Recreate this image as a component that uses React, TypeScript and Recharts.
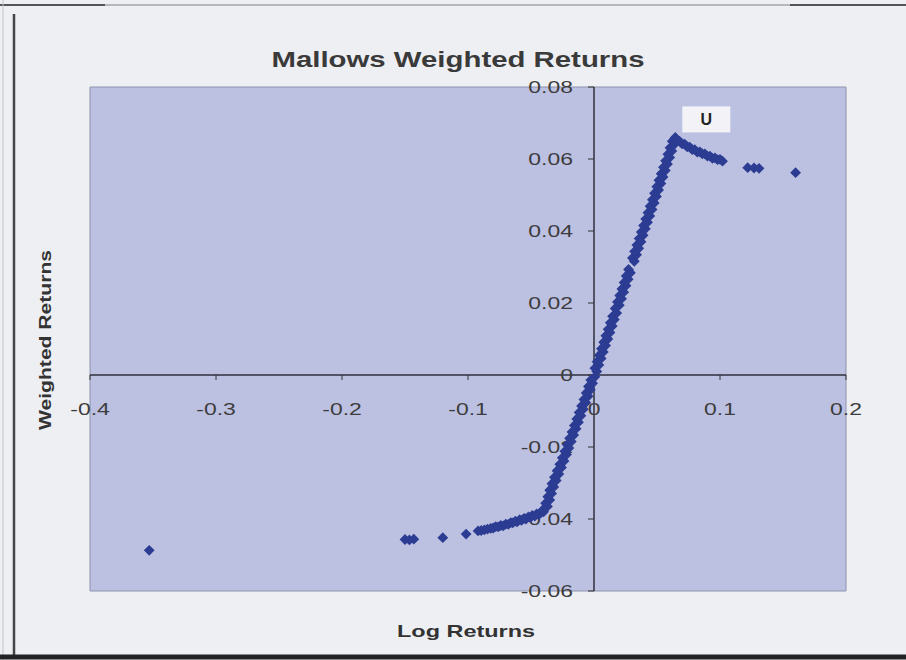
import React from 'react';
import { ScatterChart, Scatter, XAxis, YAxis, CartesianGrid, ReferenceArea, ReferenceLine, ReferenceDot } from 'recharts';

// log returns below zero and their Mallows weighted values
const negLogReturns = [
  -0.353, -0.15, -0.1465, -0.143, -0.12, -0.1015,
  -0.092, -0.0895, -0.087, -0.0845, -0.082, -0.08, -0.078, -0.076, -0.074, -0.072,
  -0.07, -0.068, -0.066, -0.0645, -0.0625, -0.061, -0.059, -0.0575, -0.0555, -0.054,
  -0.052, -0.0505, -0.049, -0.047, -0.0455, -0.044, -0.042,
  -0.04, -0.0405, -0.0369, -0.0384, -0.0351, -0.0367, -0.0336, -0.0352, -0.0319, -0.0334,
  -0.03, -0.0314, -0.0279, -0.0293, -0.0258, -0.0272, -0.0238, -0.0252, -0.0218, -0.0232,
  -0.0199, -0.0213, -0.018, -0.0194, -0.0161, -0.0175, -0.0142, -0.0156, -0.0123, -0.0137,
  -0.0104, -0.0118, -0.0085, -0.0099, -0.0065, -0.008, -0.0047, -0.0062, -0.0029, -0.0044,
  -0.0011, -0.0026, 0.0007,
];
const negWeighted = [
  -0.0487, -0.0457, -0.0458, -0.0456, -0.0452, -0.0442,
  -0.0433, -0.0432, -0.043, -0.0428, -0.0426, -0.0425, -0.0421, -0.0422, -0.0418, -0.0419,
  -0.0414, -0.0415, -0.041, -0.0411, -0.0406, -0.0408, -0.0402, -0.0404, -0.0398, -0.04,
  -0.0394, -0.0396, -0.039, -0.0392, -0.0386, -0.0388, -0.0382,
  -0.038, -0.0374, -0.0365, -0.0356, -0.0347, -0.0338, -0.0329, -0.032, -0.0311, -0.0302,
  -0.0293, -0.0284, -0.0275, -0.0266, -0.0257, -0.0248, -0.0239, -0.023, -0.0221, -0.0212,
  -0.0203, -0.0194, -0.0185, -0.0176, -0.0167, -0.0158, -0.0149, -0.014, -0.0131, -0.0122,
  -0.0113, -0.0104, -0.0095, -0.0086, -0.0077, -0.0068, -0.0059, -0.005, -0.0041, -0.0032,
  -0.0023, -0.0014, -0.0005,
];

// log returns above zero and their Mallows weighted values
const posLogReturns = [
  0.0022, 0.0007, 0.0039, 0.0024, 0.0057, 0.0042, 0.0074, 0.0059, 0.0092, 0.0077,
  0.011, 0.0094, 0.0127, 0.0112, 0.0145, 0.0129, 0.0162, 0.0147, 0.018, 0.0168,
  0.0201, 0.0186, 0.0219, 0.0204, 0.0236, 0.0221, 0.0254, 0.0239, 0.0271, 0.0256,
  0.0289, 0.0274, 0.032, 0.0305, 0.0338, 0.0322, 0.0355, 0.034, 0.0373, 0.0358,
  0.039, 0.0375, 0.0408, 0.0393, 0.0425, 0.041, 0.0443, 0.0428, 0.0461, 0.0445,
  0.0478, 0.0463, 0.0496, 0.048, 0.0513, 0.0498, 0.0531, 0.0515, 0.0548, 0.0533,
  0.0566, 0.0551, 0.0583, 0.0568, 0.0601, 0.0586, 0.0618, 0.0603, 0.0636, 0.0621,
  0.064, 0.0645, 0.0652,
  0.0662, 0.068, 0.07, 0.072, 0.074, 0.076, 0.078, 0.08, 0.082, 0.084,
  0.086, 0.088, 0.09, 0.092, 0.094, 0.096, 0.098, 0.1, 0.102,
  0.122, 0.127, 0.131, 0.16,
];
const posWeighted = [
  0.001, 0.0019, 0.0028, 0.0037, 0.0046, 0.0055, 0.0064, 0.0073, 0.0082, 0.0091,
  0.01, 0.0109, 0.0118, 0.0127, 0.0136, 0.0145, 0.0154, 0.0163, 0.0172, 0.0185,
  0.0194, 0.0203, 0.0212, 0.0221, 0.023, 0.0239, 0.0248, 0.0257, 0.0266, 0.0275,
  0.0284, 0.0293, 0.0316, 0.0325, 0.0334, 0.0343, 0.0352, 0.0361, 0.037, 0.0379,
  0.0388, 0.0397, 0.0406, 0.0415, 0.0424, 0.0433, 0.0442, 0.0451, 0.046, 0.0469,
  0.0478, 0.0487, 0.0496, 0.0505, 0.0514, 0.0523, 0.0532, 0.0541, 0.055, 0.0559,
  0.0568, 0.0577, 0.0586, 0.0595, 0.0604, 0.0613, 0.0622, 0.0631, 0.064, 0.0649,
  0.0656, 0.066, 0.0655,
  0.0652, 0.0649, 0.0642, 0.0641, 0.0634, 0.0633, 0.0626, 0.0626, 0.0619, 0.062,
  0.0614, 0.0614, 0.0608, 0.0608, 0.0602, 0.0603, 0.0598, 0.0599, 0.0594,
  0.0576, 0.0575, 0.0574, 0.0562,
];

const xTicks = [-0.4, -0.3, -0.2, -0.1, 0, 0.1, 0.2];
const xTickLabels = ['-0.4', '-0.3', '-0.2', '-0.1', '0', '0.1', '0.2'];
const yTicks = [0.08, 0.06, 0.04, 0.02, 0, -0.02, -0.04, -0.06];
const yTickLabels = ['0.08', '0.06', '0.04', '0.02', '0', '-0.02', '-0.04', '-0.06'];
const peakLabel = 'U';

const data = [
  ...negLogReturns.map((x, i) => ({ x, y: negWeighted[i] })),
  ...posLogReturns.map((x, i) => ({ x, y: posWeighted[i] })),
];
const peak = data.reduce((a, b) => (b.y > a.y ? b : a));

const font = '"Liberation Sans", Arial, sans-serif';
const dotColor = '#2c3c93';

const Diamond = (p: any) => {
  const { cx, cy } = p;
  const r = 5.4;
  return <polygon points={`${cx},${cy - r} ${cx + r},${cy} ${cx},${cy + r} ${cx - r},${cy}`} fill={dotColor} />;
};

// tick text is drawn wide, like the stretched scan
const TickText = ({ x, y, anchor, label }: any) => (
  <text transform={`translate(${x},${y}) scale(1.35,1)`} textAnchor={anchor} fontFamily={font} fontSize={17} fill="#3c3c3c">{label}</text>
);

const xTick = (label: string) => (p: any) => (
  <g>
    <line x1={p.cx} x2={p.cx} y1={p.cy} y2={p.cy + 5} stroke="#333" />
    <TickText x={p.cx} y={p.cy + 40} anchor="middle" label={label} />
  </g>
);

const yTick = (label: string) => (p: any) => (
  <g>
    <line x1={p.cx - 6} x2={p.cx} y1={p.cy} y2={p.cy} stroke="#333" />
    <TickText x={p.cx - 21} y={p.cy + 6} anchor="end" label={label} />
  </g>
);

const PeakBox = (p: any) => (
  <g>
    <rect x={p.cx + 7} y={p.cy - 31} width={48} height={26} fill="#f3f3f7" />
    <text x={p.cx + 31} y={p.cy - 12} textAnchor="middle" fontFamily={font} fontWeight="bold" fontSize={16} fill="#222">{peakLabel}</text>
  </g>
);

export default function App() {
  return (
    <div style={{ position: 'absolute', left: 0, top: 0, width: 906, height: 660, background: '#eeeff3' }}>
      <svg width={906} height={660} style={{ position: 'absolute', left: 0, top: 0 }}>
        <line x1={0} x2={906} y1={5} y2={5} stroke="#b8b8bc" strokeWidth={2} />
        <line x1={0} x2={105} y1={5} y2={5} stroke="#555" strokeWidth={2} />
        <line x1={790} x2={906} y1={5} y2={5} stroke="#555" strokeWidth={2} />
        <line x1={14} x2={14} y1={14} y2={658} stroke="#444" strokeWidth={2.5} />
        <line x1={3} x2={3} y1={0} y2={660} stroke="#c4c4c8" strokeWidth={1} />
        <line x1={0} x2={906} y1={657} y2={657} stroke="#222" strokeWidth={5} />
        <text x={458} y={67} textAnchor="middle" fontFamily={font} fontWeight="bold" fontSize={22} textLength={373} lengthAdjust="spacingAndGlyphs" fill="#3a3a3a">Mallows Weighted Returns</text>
        <text x={466} y={637} textAnchor="middle" fontFamily={font} fontWeight="bold" fontSize={17} textLength={138} lengthAdjust="spacingAndGlyphs" fill="#333">Log Returns</text>
        <text transform="translate(51,340) rotate(-90)" textAnchor="middle" fontFamily={font} fontWeight="bold" fontSize={17} textLength={180} lengthAdjust="spacingAndGlyphs" fill="#333">Weighted Returns</text>
      </svg>
      <div style={{ position: 'absolute', left: 0, top: 0 }}>
        <ScatterChart width={906} height={660} margin={{ top: 87, right: 60, bottom: 69, left: 90 }}>
          <CartesianGrid horizontal={false} vertical={false} fill="#bcc1e2" />
          <XAxis type="number" dataKey="x" domain={[-0.4, 0.2]} allowDataOverflow hide />
          <YAxis type="number" dataKey="y" domain={[-0.06, 0.08]} allowDataOverflow hide />
          <ReferenceArea x1={-0.4} x2={0.2} y1={-0.06} y2={0.08} fill="none" stroke="#8e92ac" />
          <ReferenceLine x={0} stroke="#2f2f3c" strokeWidth={1.5} />
          <ReferenceLine y={0} stroke="#2f2f3c" strokeWidth={1.5} />
          {xTicks.map((t, i) => (
            <ReferenceDot key={'x' + i} x={t} y={0} r={1} shape={xTick(xTickLabels[i])} />
          ))}
          {yTicks.map((t, i) => (
            <ReferenceDot key={'y' + i} x={0} y={t} r={1} shape={yTick(yTickLabels[i])} />
          ))}
          <Scatter data={data} fill={dotColor} shape={Diamond} isAnimationActive={false} />
          <ReferenceDot x={peak.x} y={peak.y} r={1} shape={PeakBox} />
        </ScatterChart>
      </div>
    </div>
  );
}
